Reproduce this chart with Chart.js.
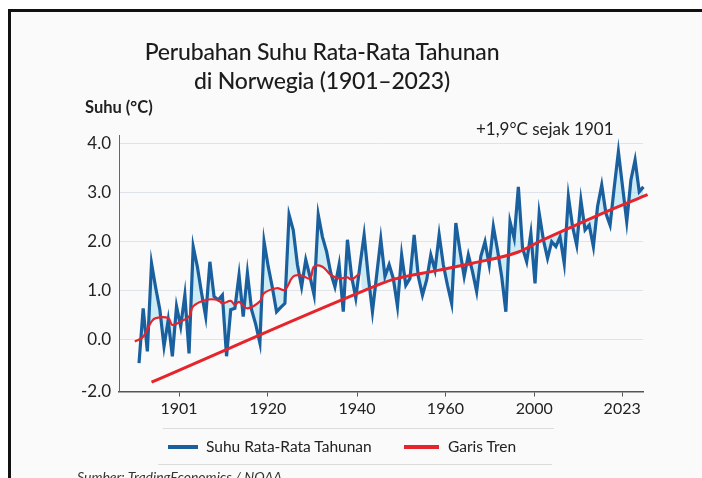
<!DOCTYPE html>
<html lang="id">
<head>
<meta charset="utf-8">
<title>Perubahan Suhu Rata-Rata Tahunan di Norwegia</title>
<script src="https://cdn.jsdelivr.net/npm/chart.js"></script>
<style>
  html, body { margin: 0; padding: 0; }
  body { width: 702px; height: 478px; overflow: hidden; background: #fff; position: relative; font-family: Lato, "Open Sans", sans-serif; color: #222; }
  .frame { position: absolute; left: 8px; top: 9px; width: 760px; height: 520px; border: 3px solid #111; background: #fafafa; }
  #chart { position: absolute; left: 0; top: 0; }
  .title { position: absolute; left: 0; width: 644px; top: 37px; text-align: center; font-size: 23px; font-weight: 500; line-height: 29px; color: #1c1c1c; letter-spacing: -0.2px; }
  .unit { position: absolute; left: 85px; top: 98px; font-size: 16.5px; font-weight: 700; line-height: 19px; }
  .note { position: absolute; left: 476px; top: 119px; font-size: 17px; line-height: 20px; }
  .sep { position: absolute; height: 1px; background: #dcdcdc; }
  .leg { position: absolute; top: 437px; font-size: 15.5px; line-height: 19px; }
  .swatch { position: absolute; height: 4px; top: 445px; }
  .source { position: absolute; left: 77px; top: 468px; font-size: 14px; font-style: italic; color: #333; }
</style>
</head>
<body>
<div class="frame"></div>
<canvas id="chart" width="702" height="478"></canvas>
<div class="title">Perubahan Suhu Rata-Rata Tahunan<br>di Norwegia (1901–2023)</div>
<div class="unit">Suhu (°C)</div>
<div class="note">+1,9°C sejak 1901</div>
<div class="sep" style="left:163px; width:391px; top:428px;"></div>
<div class="swatch" style="left:168px; width:30px; background:#1a5f9e;"></div>
<div class="leg" style="left:206px;">Suhu Rata-Rata Tahunan</div>
<div class="swatch" style="left:404px; width:35px; background:#e6242b;"></div>
<div class="leg" style="left:448px;">Garis Tren</div>
<div class="sep" style="left:158px; width:394px; top:464px;"></div>
<div class="source">Sumber: TradingEconomics / NOAA</div>

<script>
// Data (nilai posisi pada sumbu y)
const firstYear = 1901;
const suhuTahunan = [
  -0.49, 0.63, -0.25, 1.55, 1.05, 0.60, -0.15, 0.39, -0.35, 0.67,
  0.26, 0.90, -0.29, 1.89, 1.48, 0.94, 0.46, 1.58, 0.87, 0.80,
  0.90, -0.35, 0.60, 0.63, 1.31, 0.46, 1.35, 0.60, 0.30, -0.08,
  1.99, 1.48, 1.05, 0.56, 0.65, 0.73, 2.54, 2.23, 1.52, 1.07,
  1.62, 1.28, 0.90, 2.54, 2.09, 1.79, 1.35, 1.07, 1.52, 0.56,
  2.03, 1.28, 0.84, 1.50, 2.13, 1.28, 0.56, 1.30, 2.04, 1.28,
  1.52, 1.24, 0.67, 1.72, 1.10, 1.24, 2.13, 1.28, 0.90, 1.21,
  1.72, 1.41, 2.13, 1.52, 1.10, 0.73, 2.37, 1.80, 1.28, 1.72,
  1.38, 0.97, 1.69, 1.99, 1.52, 2.30, 1.82, 1.28, 0.56, 2.40,
  2.06, 3.11, 1.86, 1.58, 2.16, 1.14, 2.57, 2.03, 1.65, 1.99,
  1.89, 2.09, 1.55, 2.91, 2.30, 1.92, 2.84, 2.23, 2.33, 1.89,
  2.71, 3.15, 2.57, 2.33, 3.10, 3.83, 3.11, 2.40, 3.25, 3.66,
  3.01, 3.11, 3.17
];

// Rata-rata bergerak (garis merah bergelombang)
const rataTahun = [1900, 1902, 1904, 1905, 1908, 1909, 1911, 1913, 1914, 1917, 1920, 1921, 1923, 1924, 1925,
                   1927, 1930, 1931, 1934, 1936, 1938, 1940, 1942, 1943, 1945, 1947, 1949, 1951, 1952, 1954];
const rataNilai = [-0.05, 0.05, 0.36, 0.43, 0.43, 0.29, 0.36, 0.46, 0.67, 0.80, 0.80, 0.73, 0.78, 0.70, 0.76,
                   0.63, 0.77, 0.94, 1.04, 1.01, 1.28, 1.30, 1.24, 1.48, 1.48, 1.31, 1.24, 1.26, 1.22, 1.35];

// Garis tren
const trenTahun = [1904, 1955, 1962, 1973, 1981, 1992, 1997, 2005, 2013, 2023];
const trenNilai = [-0.88, 0.99, 1.22, 1.41, 1.55, 1.78, 1.99, 2.30, 2.60, 2.95];

// Label sumbu (posisi label x tidak linear terhadap tahun pada gambar asli)
const xTickPos = [1910.6, 1931.9, 1953.3, 1974.5, 1995.8, 2016.9];
const xTickLabels = ['1901', '1920', '1940', '1960', '2000', '2023'];
const yMin = -1.07;
const yTickVals = [yMin, 0, 1, 2, 3, 4];
const yTickLabels = ['-2.0', '0.0', '1.0', '2.0', '3.0', '4.0'];

const pts = (xs, ys) => xs.map((x, i) => ({ x: x, y: ys[i] }));
const suhuPts = suhuTahunan.map((v, i) => ({ x: firstYear + i, y: v }));
const rataPts = pts(rataTahun, rataNilai);
const trenPts = pts(trenTahun, trenNilai);
// garis bantu (tidak terlihat) untuk isian biru muda
const lastRata = rataTahun[rataTahun.length - 1];
const bantuPts = rataPts.concat(trenPts.filter(p => p.x > lastRata));

const fillColor = 'rgba(140, 215, 238, 0.42)';

new Chart(document.getElementById('chart').getContext('2d'), {
  type: 'line',
  data: {
    datasets: [
      {
        label: 'Garis Tren',
        data: trenPts,
        borderColor: '#e6242b',
        borderWidth: 3,
        pointRadius: 0,
        cubicInterpolationMode: 'monotone',
        fill: false,
        clip: false,
        order: 0
      },
      {
        label: 'Rata-rata',
        data: rataPts,
        borderColor: '#e6242b',
        borderWidth: 2.2,
        pointRadius: 0,
        tension: 0.4,
        fill: false,
        order: 1
      },
      {
        label: 'Suhu Rata-Rata Tahunan',
        data: suhuPts,
        borderColor: '#1a5f9e',
        borderWidth: 3.2,
        pointRadius: 0,
        tension: 0,
        borderJoinStyle: 'miter',
        fill: { target: 3, above: fillColor, below: fillColor },
        clip: false,
        order: 2
      },
      {
        label: 'bantu',
        data: bantuPts,
        borderColor: 'rgba(0,0,0,0)',
        borderWidth: 0,
        pointRadius: 0,
        tension: 0.4,
        fill: false,
        order: 3
      }
    ]
  },
  options: {
    responsive: false,
    animation: false,
    devicePixelRatio: 1,
    layout: { padding: { left: 0, right: 59, top: 135, bottom: 56.5 } },
    plugins: {
      legend: { display: false },
      title: { display: false },
      tooltip: { enabled: false }
    },
    scales: {
      x: {
        type: 'linear',
        min: 1896.2,
        max: 2021.9,
        afterBuildTicks: (scale) => { scale.ticks = xTickPos.map(v => ({ value: v })); },
        afterFit: (scale) => { scale.height = 30; },
        ticks: {
          callback: (v, i) => xTickLabels[i],
          padding: 3,
          maxRotation: 0,
          autoSkip: false,
          color: '#222',
          font: { family: 'Lato', size: 16 }
        },
        grid: { drawOnChartArea: false, drawTicks: true, tickLength: 5, color: '#555' },
        border: { display: true, color: '#555', width: 1.5 }
      },
      y: {
        type: 'linear',
        min: yMin,
        max: 4.17,
        afterBuildTicks: (scale) => { scale.ticks = yTickVals.map(v => ({ value: v })); },
        afterFit: (scale) => { scale.width = 119; },
        ticks: {
          callback: (v, i) => yTickLabels[i],
          padding: 8,
          color: '#222',
          font: { family: 'Lato', size: 17 }
        },
        grid: {
          drawTicks: false,
          color: (ctx) => (ctx.tick && ctx.tick.value === yMin) ? 'rgba(0,0,0,0)' : '#dfe3ea',
          lineWidth: 1
        },
        border: { display: true, color: '#666', width: 1 }
      }
    }
  }
});
</script>
</body>
</html>
